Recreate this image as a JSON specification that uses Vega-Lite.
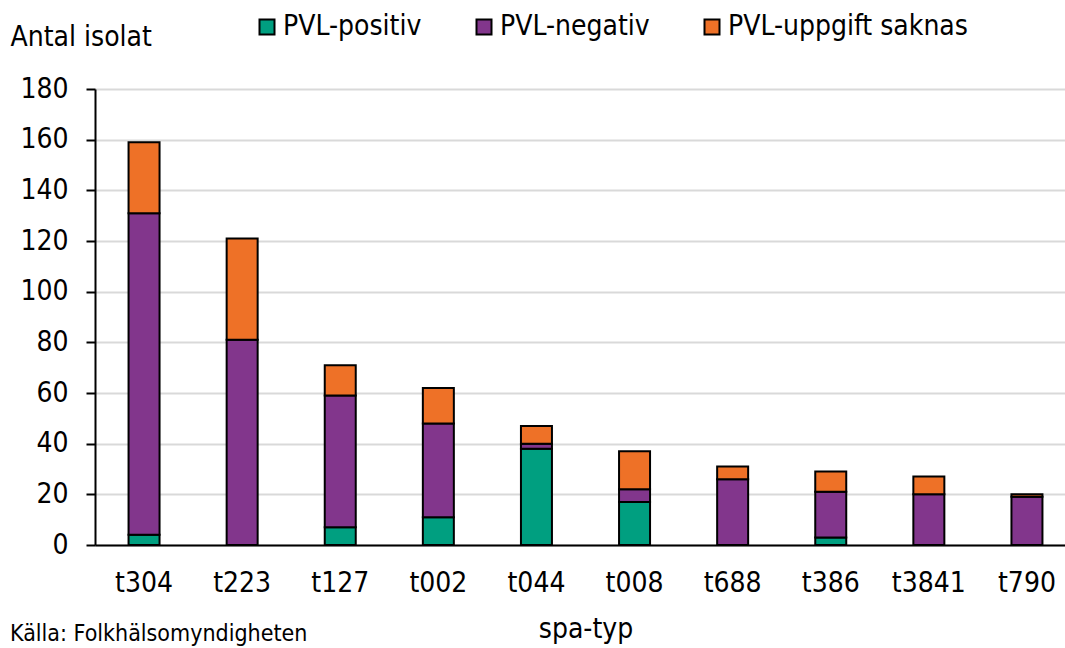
{
  "$schema": "https://vega.github.io/schema/vega-lite/v6.json",
  "width": 981,
  "height": 456,
  "autosize": {"type": "none"},
  "padding": {"left": 95, "top": 89, "right": 0, "bottom": 103},
  "background": "white",
  "config": {
    "font": "DejaVu Sans Condensed, DejaVu Sans",
    "view": {"stroke": null}
  },
  "title": {
    "text": "Källa: Folkhälsomyndigheten",
    "orient": "bottom",
    "anchor": "start",
    "frame": "group",
    "fontSize": 23,
    "fontWeight": "normal",
    "color": "black",
    "dx": -85,
    "offset": -20
  },
  "data": {
    "values": [
      {"spa": "t304", "pvl": "PVL-positiv", "n": 4},
      {"spa": "t304", "pvl": "PVL-negativ", "n": 127},
      {"spa": "t304", "pvl": "PVL-uppgift saknas", "n": 28},
      {"spa": "t223", "pvl": "PVL-positiv", "n": 0},
      {"spa": "t223", "pvl": "PVL-negativ", "n": 81},
      {"spa": "t223", "pvl": "PVL-uppgift saknas", "n": 40},
      {"spa": "t127", "pvl": "PVL-positiv", "n": 7},
      {"spa": "t127", "pvl": "PVL-negativ", "n": 52},
      {"spa": "t127", "pvl": "PVL-uppgift saknas", "n": 12},
      {"spa": "t002", "pvl": "PVL-positiv", "n": 11},
      {"spa": "t002", "pvl": "PVL-negativ", "n": 37},
      {"spa": "t002", "pvl": "PVL-uppgift saknas", "n": 14},
      {"spa": "t044", "pvl": "PVL-positiv", "n": 38},
      {"spa": "t044", "pvl": "PVL-negativ", "n": 2},
      {"spa": "t044", "pvl": "PVL-uppgift saknas", "n": 7},
      {"spa": "t008", "pvl": "PVL-positiv", "n": 17},
      {"spa": "t008", "pvl": "PVL-negativ", "n": 5},
      {"spa": "t008", "pvl": "PVL-uppgift saknas", "n": 15},
      {"spa": "t688", "pvl": "PVL-positiv", "n": 0},
      {"spa": "t688", "pvl": "PVL-negativ", "n": 26},
      {"spa": "t688", "pvl": "PVL-uppgift saknas", "n": 5},
      {"spa": "t386", "pvl": "PVL-positiv", "n": 3},
      {"spa": "t386", "pvl": "PVL-negativ", "n": 18},
      {"spa": "t386", "pvl": "PVL-uppgift saknas", "n": 8},
      {"spa": "t3841", "pvl": "PVL-positiv", "n": 0},
      {"spa": "t3841", "pvl": "PVL-negativ", "n": 20},
      {"spa": "t3841", "pvl": "PVL-uppgift saknas", "n": 7},
      {"spa": "t790", "pvl": "PVL-positiv", "n": 0},
      {"spa": "t790", "pvl": "PVL-negativ", "n": 19},
      {"spa": "t790", "pvl": "PVL-uppgift saknas", "n": 1}
    ]
  },
  "transform": [
    {"filter": "datum.n > 0"}
  ],
  "mark": {"type": "bar", "stroke": "black", "strokeWidth": 2},
  "encoding": {
    "x": {
      "field": "spa",
      "type": "nominal",
      "sort": null,
      "scale": {"paddingInner": 0.684, "paddingOuter": 0.342},
      "axis": {
        "title": "spa-typ",
        "titleFontSize": 28,
        "titleFontWeight": "normal",
        "titleColor": "black",
        "titleBaseline": "alphabetic",
        "titleY": 92,
        "labelAngle": 0,
        "labelFontSize": 28,
        "labelColor": "black",
        "labelPadding": 24,
        "ticks": false,
        "domainColor": "black",
        "domainWidth": 2
      }
    },
    "y": {
      "field": "n",
      "type": "quantitative",
      "stack": "zero",
      "scale": {"domain": [0, 180], "nice": false},
      "axis": {
        "values": [0, 20, 40, 60, 80, 100, 120, 140, 160, 180],
        "title": "Antal isolat",
        "titleAngle": 0,
        "titleAlign": "left",
        "titleBaseline": "alphabetic",
        "titleX": -85,
        "titleY": -44,
        "titleFontSize": 28,
        "titleFontWeight": "normal",
        "titleColor": "black",
        "labelFontSize": 28,
        "labelColor": "black",
        "labelPadding": 18,
        "tickSize": 9,
        "tickColor": "black",
        "tickWidth": 2,
        "domainColor": "black",
        "domainWidth": 2,
        "gridColor": "#d9d9d9",
        "gridWidth": 2
      }
    },
    "color": {
      "field": "pvl",
      "type": "nominal",
      "scale": {
        "domain": ["PVL-positiv", "PVL-negativ", "PVL-uppgift saknas"],
        "range": ["#009F80", "#82368C", "#EE7127"]
      },
      "legend": {
        "title": null,
        "orient": "none",
        "direction": "horizontal",
        "legendX": 158,
        "legendY": -76,
        "symbolType": "square",
        "symbolSize": 225,
        "symbolStrokeColor": "black",
        "symbolStrokeWidth": 2,
        "symbolOpacity": 1,
        "labelFontSize": 28,
        "labelColor": "black",
        "labelOffset": 2,
        "labelLimit": 400,
        "columnPadding": 48
      }
    },
    "order": {"field": "pvlOrder", "type": "quantitative"}
  }
}
